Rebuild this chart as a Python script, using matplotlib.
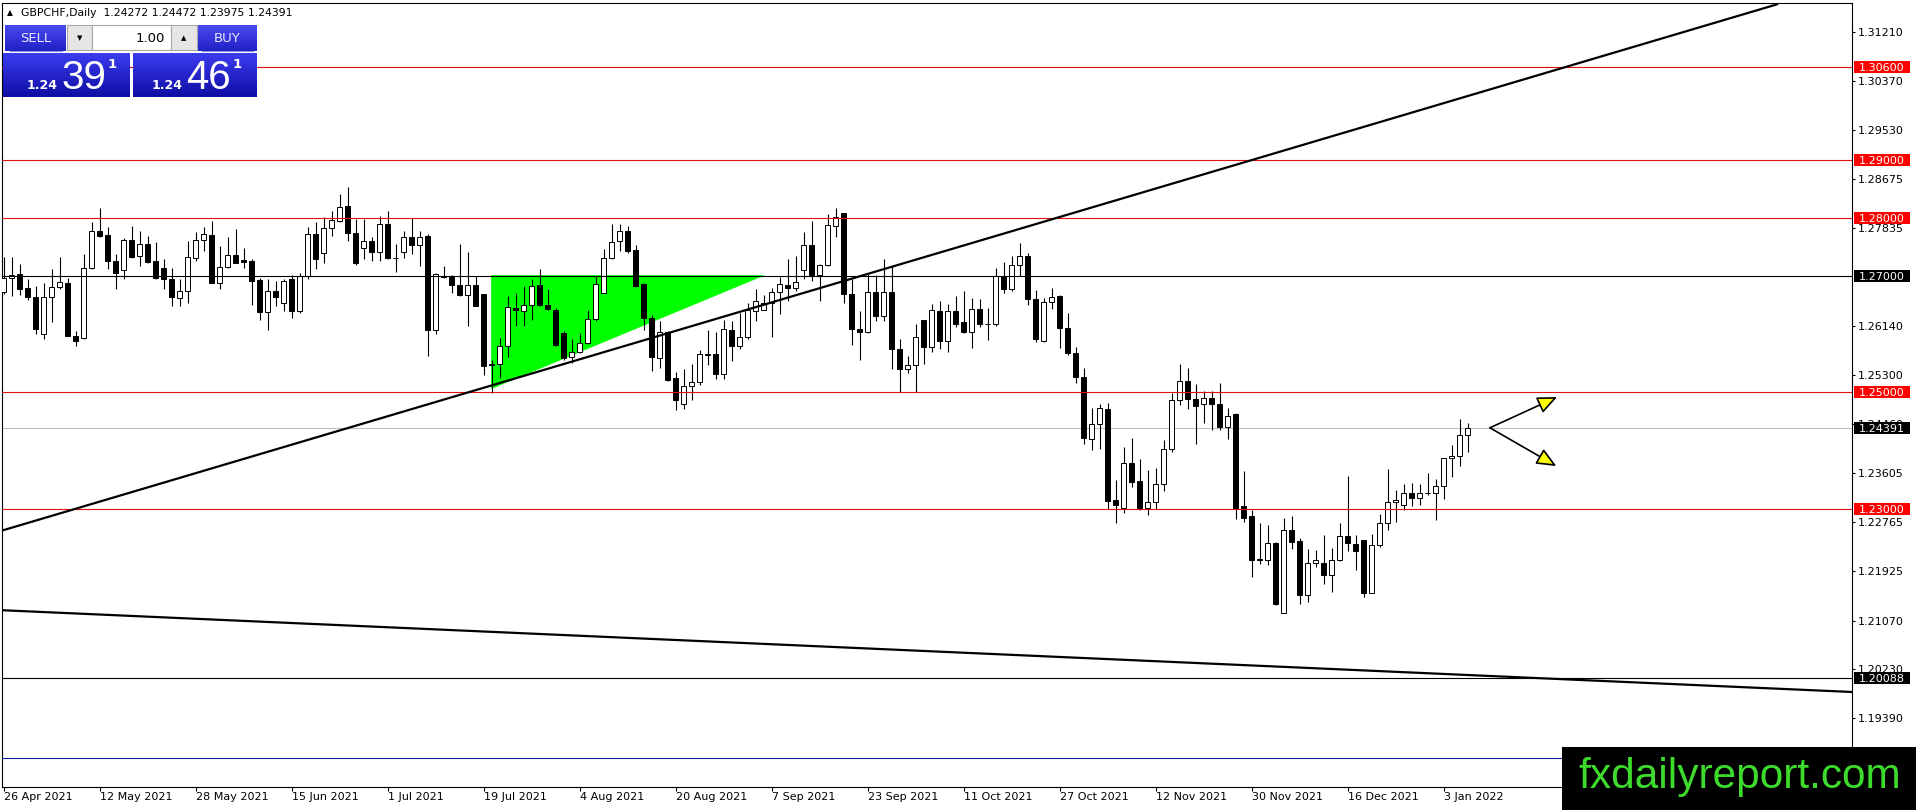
import matplotlib
matplotlib.use("Agg")
import matplotlib.pyplot as plt
import matplotlib.transforms as mtransforms
from matplotlib.patches import Rectangle, Polygon
from matplotlib.colors import LinearSegmentedColormap
import numpy as np

W, H, DPI = 1916, 810, 100

header = "GBPCHF,Daily  1.24272 1.24472 1.23975 1.24391"

# daily OHLC, 26 Apr 2021 .. 6 Jan 2022
opens = [
    1.26728, 1.26977, 1.27035, 1.26792, 1.26647, 1.26006, 1.26647, 1.26821, 1.26890, 1.25977,
    1.25936, 1.27150, 1.27775, 1.27711, 1.27272, 1.27110, 1.27630, 1.27353, 1.27555, 1.27272,
    1.27145, 1.26948, 1.26630, 1.26752, 1.27324, 1.27624, 1.27711, 1.26890, 1.27168, 1.27376,
    1.27277, 1.27266, 1.26931, 1.26382, 1.26752, 1.26543, 1.26948, 1.26399, 1.27006, 1.27728,
    1.27410, 1.27827, 1.27959, 1.28208, 1.27740, 1.27497, 1.27607, 1.27428, 1.27902, 1.27324,
    1.27428, 1.27682, 1.27538, 1.27688, 1.26081, 1.27006, 1.26994, 1.26844, 1.26682, 1.26844,
    1.26688, 1.25486, 1.25491, 1.25792, 1.26457, 1.26399, 1.26509, 1.26844, 1.26514, 1.26428,
    1.26023, 1.25619, 1.25705, 1.25850, 1.26266, 1.26717, 1.27324, 1.27601, 1.27786, 1.27457,
    1.26873, 1.26283, 1.25590, 1.26035, 1.25243, 1.24804, 1.25111, 1.25181, 1.25655, 1.25661,
    1.25325, 1.26078, 1.25806, 1.25951, 1.26397, 1.26426, 1.26541, 1.26733, 1.26854, 1.26796,
    1.27103, 1.27537, 1.27022, 1.27196, 1.27862, 1.28093, 1.26698, 1.26090, 1.26049, 1.26732,
    1.26309, 1.26732, 1.25742, 1.25412, 1.25466, 1.26247, 1.25787, 1.26402, 1.25891, 1.26402,
    1.26207, 1.26046, 1.26431, 1.26172, 1.26178, 1.27000, 1.26780, 1.27200, 1.27350, 1.26608,
    1.25879, 1.26557, 1.26666, 1.26103, 1.25672, 1.25259, 1.24196, 1.24448, 1.24707, 1.23144,
    1.23017, 1.23793, 1.23471, 1.23017, 1.23104, 1.23431, 1.24017, 1.24868, 1.25195, 1.24879,
    1.24793, 1.24897, 1.24793, 1.24408, 1.24627, 1.23040, 1.22868, 1.22138, 1.22121, 1.22414,
    1.21201, 1.22627, 1.22437, 1.21506, 1.22069, 1.22069, 1.21862, 1.22121, 1.22523, 1.22397,
    1.22454, 1.21546, 1.22368, 1.22742, 1.23104, 1.23058, 1.23259, 1.23173, 1.23270, 1.23270,
    1.23391, 1.23862, 1.23908, 1.24272,
]
highs = [
    1.27341, 1.27341, 1.27208, 1.26948, 1.26832, 1.26890, 1.27121, 1.27341, 1.26977, 1.26052,
    1.27381, 1.27942, 1.28173, 1.27844, 1.27381, 1.27653, 1.27873, 1.27786, 1.27688, 1.27584,
    1.27295, 1.27150, 1.26948, 1.27607, 1.27757, 1.27844, 1.27959, 1.27526, 1.27670, 1.27815,
    1.27497, 1.27295, 1.26971, 1.26948, 1.26919, 1.26948, 1.27029, 1.27064, 1.27844, 1.27931,
    1.28017, 1.28133, 1.28422, 1.28538, 1.27988, 1.27988, 1.27670, 1.28035, 1.28133, 1.27555,
    1.27786, 1.28000, 1.27786, 1.27728, 1.27064, 1.27179, 1.27017, 1.27555, 1.27422, 1.27006,
    1.26695, 1.25561, 1.25936, 1.26659, 1.26717, 1.26832, 1.26948, 1.27121, 1.26775, 1.26457,
    1.26052, 1.25919, 1.26023, 1.26416, 1.27006, 1.27468, 1.27902, 1.27902, 1.27873, 1.27538,
    1.26890, 1.26341, 1.26225, 1.26052, 1.25358, 1.25400, 1.25488, 1.25731, 1.26078, 1.26049,
    1.26252, 1.26223, 1.26368, 1.26541, 1.26790, 1.26686, 1.26802, 1.26993, 1.27294, 1.27352,
    1.27757, 1.27954, 1.27207, 1.28076, 1.28174, 1.28100, 1.26947, 1.26397, 1.27034, 1.27022,
    1.27294, 1.27178, 1.25916, 1.25630, 1.26178, 1.26252, 1.26523, 1.26575, 1.26523, 1.26654,
    1.26752, 1.26625, 1.26608, 1.26448, 1.27150, 1.27250, 1.27350, 1.27570, 1.27400, 1.26770,
    1.26625, 1.26800, 1.26683, 1.26362, 1.25787, 1.25414, 1.24724, 1.24799, 1.24810, 1.23489,
    1.24063, 1.24218, 1.23845, 1.23661, 1.23690, 1.24178, 1.24994, 1.25489, 1.25414, 1.25138,
    1.25029, 1.25029, 1.25167, 1.24724, 1.24638, 1.23644, 1.22971, 1.22753, 1.22713, 1.22420,
    1.22845, 1.22868, 1.22500, 1.22310, 1.22282, 1.22540, 1.22328, 1.22742, 1.23558, 1.22552,
    1.22460, 1.22569, 1.22914, 1.23678, 1.23316, 1.23420, 1.23448, 1.23431, 1.23604, 1.23506,
    1.23868, 1.24092, 1.24540, 1.24472,
]
lows = [
    1.26688, 1.26659, 1.26676, 1.26601, 1.26012, 1.25919, 1.26208, 1.26775, 1.25965, 1.25792,
    1.25919, 1.27121, 1.27670, 1.27121, 1.26786, 1.26948, 1.27324, 1.27179, 1.27225, 1.26948,
    1.26775, 1.26486, 1.26486, 1.26543, 1.27260, 1.27439, 1.26885, 1.26775, 1.27145, 1.27225,
    1.27150, 1.26514, 1.26254, 1.26081, 1.26486, 1.26399, 1.26283, 1.26370, 1.26948, 1.27121,
    1.27237, 1.27699, 1.27942, 1.27613, 1.27191, 1.27295, 1.27266, 1.27266, 1.27295, 1.27075,
    1.27324, 1.27381, 1.27179, 1.25636, 1.26012, 1.26977, 1.26717, 1.26659, 1.26150, 1.26486,
    1.25301, 1.24983, 1.25243, 1.25619, 1.26139, 1.26139, 1.26254, 1.26486, 1.26416, 1.25792,
    1.25561, 1.25515, 1.25676, 1.25832, 1.26225, 1.26710, 1.27295, 1.27439, 1.27410, 1.26821,
    1.26081, 1.25376, 1.25416, 1.25205, 1.24694, 1.24718, 1.24874, 1.25123, 1.25470, 1.25239,
    1.25239, 1.25546, 1.25748, 1.25916, 1.26223, 1.26414, 1.25951, 1.26356, 1.26570, 1.26744,
    1.26958, 1.26918, 1.26570, 1.27178, 1.27670, 1.26541, 1.25818, 1.25557, 1.26020, 1.26223,
    1.26223, 1.25412, 1.25010, 1.25330, 1.25012, 1.25483, 1.25701, 1.25741, 1.25701, 1.26121,
    1.26017, 1.25759, 1.26132, 1.25902, 1.26150, 1.26720, 1.26740, 1.27000, 1.26506, 1.25874,
    1.25870, 1.26436, 1.25762, 1.25644, 1.25167, 1.24109, 1.24006, 1.24017, 1.23000, 1.22753,
    1.22925, 1.23374, 1.22971, 1.22885, 1.23000, 1.23305, 1.23977, 1.24782, 1.24707, 1.24104,
    1.24477, 1.24351, 1.24351, 1.24190, 1.22828, 1.22770, 1.21822, 1.22040, 1.22023, 1.21333,
    1.21195, 1.22310, 1.21351, 1.21391, 1.21994, 1.21707, 1.21563, 1.22098, 1.22270, 1.21948,
    1.21477, 1.21540, 1.22339, 1.22627, 1.22770, 1.22971, 1.23046, 1.23058, 1.23230, 1.22799,
    1.23161, 1.23535, 1.23736, 1.23975,
]
closes = [
    1.26965, 1.27029, 1.26786, 1.26647, 1.26093, 1.26647, 1.26821, 1.26902, 1.25977, 1.25879,
    1.27150, 1.27775, 1.27699, 1.27272, 1.27064, 1.27630, 1.27341, 1.27555, 1.27249, 1.26977,
    1.26948, 1.26647, 1.26752, 1.27341, 1.27630, 1.27728, 1.26890, 1.27168, 1.27376, 1.27237,
    1.27254, 1.26919, 1.26382, 1.26752, 1.26647, 1.26913, 1.26410, 1.27006, 1.27723, 1.27295,
    1.27827, 1.27977, 1.28191, 1.27740, 1.27237, 1.27607, 1.27422, 1.27896, 1.27312, 1.27312,
    1.27670, 1.27538, 1.27682, 1.26081, 1.27046, 1.26983, 1.26844, 1.26676, 1.26844, 1.26497,
    1.25457, 1.25468, 1.25792, 1.26474, 1.26428, 1.26509, 1.26832, 1.26509, 1.26439, 1.25821,
    1.25590, 1.25705, 1.25850, 1.26266, 1.26873, 1.27324, 1.27584, 1.27786, 1.27439, 1.26832,
    1.26283, 1.25607, 1.26035, 1.25214, 1.24867, 1.25111, 1.25181, 1.25661, 1.25650, 1.25325,
    1.26090, 1.25806, 1.25951, 1.26414, 1.26570, 1.26541, 1.26727, 1.26871, 1.26802, 1.26906,
    1.27537, 1.27022, 1.27196, 1.27885, 1.28018, 1.26698, 1.26090, 1.26049, 1.26732, 1.26321,
    1.26732, 1.25742, 1.25412, 1.25470, 1.25960, 1.25787, 1.26420, 1.25891, 1.26402, 1.26178,
    1.26046, 1.26431, 1.26172, 1.26178, 1.27000, 1.26780, 1.27200, 1.27350, 1.26608, 1.25920,
    1.26557, 1.26643, 1.26106, 1.25684, 1.25259, 1.24207, 1.24448, 1.24724, 1.23132, 1.23063,
    1.23793, 1.23460, 1.23017, 1.23104, 1.23431, 1.24017, 1.24868, 1.25195, 1.24879, 1.24770,
    1.24897, 1.24793, 1.24408, 1.24598, 1.23000, 1.22845, 1.22121, 1.22121, 1.22414, 1.21362,
    1.22627, 1.22425, 1.21506, 1.22069, 1.22109, 1.21862, 1.22121, 1.22523, 1.22408, 1.22270,
    1.21546, 1.22368, 1.22742, 1.23104, 1.23155, 1.23259, 1.23173, 1.23270, 1.23276, 1.23385,
    1.23862, 1.23908, 1.24264, 1.24391,
]

date_ticks = [0, 12, 24, 36, 48, 60, 72, 84, 96, 108, 120, 132, 144, 156, 168, 180]
date_labels = ["26 Apr 2021", "12 May 2021", "28 May 2021", "15 Jun 2021", "1 Jul 2021",
               "19 Jul 2021", "4 Aug 2021", "20 Aug 2021", "7 Sep 2021", "23 Sep 2021",
               "11 Oct 2021", "27 Oct 2021", "12 Nov 2021", "30 Nov 2021", "16 Dec 2021",
               "3 Jan 2022"]

# visible scale labels (the ones fully under the level boxes / watermark are left out)
price_ticks = [1.31210, 1.30370, 1.29530, 1.28675, 1.27835, 1.26140, 1.25300,
               1.24460, 1.23605, 1.22765, 1.21925, 1.21070, 1.20230, 1.19390]

red_levels = [1.30600, 1.29000, 1.28000, 1.25000, 1.23000]
black_levels = [1.27000, 1.20088]
blue_level = 1.18700
bid = 1.24391

# drawn objects, (bar index, price)
trend_up_x, trend_up_y = [-0.19, 221.81], [1.22620, 1.31692]
trend_dn_x, trend_dn_y = [-0.19, 231.06], [1.21248, 1.19839]
tri_x, tri_y = [60.94, 60.94, 94.94], [1.25071, 1.27020, 1.27020]
arrow_from = (185.8, 1.24391)
arrow_tips = [(194.2, 1.24921), (194.1, 1.23732)]

RED = "#e01010"
BOXRED = "#ff0000"

fig = plt.figure(figsize=(W / DPI, H / DPI), dpi=DPI, facecolor="white")
L, R, T, B = 2, 1852, 3, 787
ax = fig.add_axes([L / W, 1 - B / H, (R - L) / W, (B - T) / H])
ax.set_facecolor("white")

# green triangle (background object)
ax.add_patch(Polygon(list(zip(tri_x, tri_y)), closed=True, fc="#00ff00", ec="#00ff00",
                     lw=0.5, zorder=1))

# candles
x = np.arange(len(opens))
o = np.array(opens)
c = np.array(closes)
ax.vlines(x, lows, highs, color="black", lw=0.8, zorder=3)
bottom = np.minimum(o, c)
height = np.maximum(np.abs(c - o), 0.00004)
ax.bar(x, height, bottom=bottom, width=0.55,
       color=np.where(c >= o, "white", "black"), edgecolor="black", lw=0.7, zorder=4)

# horizontal levels
for lv in red_levels:
    ax.axhline(lv, color=RED, lw=0.8, zorder=5)
for lv in black_levels:
    ax.axhline(lv, color="black", lw=0.8, zorder=5)
ax.axhline(blue_level, color="#1a1aa8", lw=0.8, zorder=5)
ax.axhline(bid, color="#c0c0c0", lw=0.8, zorder=2)

# trend lines
ax.plot(trend_up_x, trend_up_y, color="black", lw=1.6, zorder=5, solid_capstyle="butt")
ax.plot(trend_dn_x, trend_dn_y, color="black", lw=1.6, zorder=5, solid_capstyle="butt")

# arrows
for tip in arrow_tips:
    ax.annotate("", xy=tip, xytext=arrow_from, zorder=6,
                arrowprops=dict(arrowstyle="-|>,head_length=0.8,head_width=0.35",
                                fc="#ffff00", ec="black", lw=1.2, mutation_scale=15,
                                shrinkA=0, shrinkB=0))

# axes styling
for s in ax.spines.values():
    s.set_color("black")
    s.set_linewidth(0.8)
ax.yaxis.tick_right()
ax.set_yticks(price_ticks)
ax.set_yticklabels([f"{p:.5f}" for p in price_ticks])
ax.set_xticks(date_ticks, date_labels, ha="left")
ax.tick_params(axis="y", direction="out", length=2.2, width=0.8, pad=2.2, labelsize=8,
               colors="black")
ax.tick_params(axis="x", direction="out", length=2.8, width=0.8, pad=0.5, labelsize=8,
               colors="black")

# price label boxes on the right scale
tr = mtransforms.blended_transform_factory(fig.transFigure, ax.transData)
box_h = 12 / 5804
for lv, col in [(v, BOXRED) for v in red_levels] + [(v, "black") for v in black_levels] + [(bid, "black")]:
    ax.add_patch(Rectangle((1854 / W, lv - box_h / 2), 56 / W, box_h, transform=tr,
                           fc=col, ec="none", clip_on=False, zorder=8))
    ax.text(1858.5 / W, lv, f"{lv:.5f}", transform=tr, color="white", fontsize=8,
            va="center_baseline", ha="left", clip_on=False, zorder=9)

ax.set_xlim(-0.1875, -0.1875 + (R - L) / 8)
ax.set_ylim(1.18202, 1.31710)

# overlay in pixel coordinates: header, trade panel, watermark
ov = fig.add_axes([0, 0, 1, 1], zorder=10)
ov.axis("off")


def grad(x0, y0, x1, y1, ctop, cbot):
    cmap = LinearSegmentedColormap.from_list("g", [ctop, cbot])
    ov.imshow(np.linspace(0, 1, 64).reshape(-1, 1), extent=(x0, x1, y1, y0), cmap=cmap,
              aspect="auto", interpolation="bilinear", zorder=1)


ov.text(7, 13, "\u25b2", fontsize=5.5, va="center", ha="left")
ov.text(21, 13, header, fontsize=7.8, va="center", ha="left")

grad(5, 25, 66, 51, "#4a4af2", "#2020c4")
grad(198, 25, 257, 51, "#4a4af2", "#2020c4")
ov.plot([10, 62], [51, 51], color="#8c8cee", lw=0.8)
ov.plot([202, 253], [51, 51], color="#8c8cee", lw=0.8)
ov.add_patch(Rectangle((67, 25), 25, 25, fc="#e6e6e6", ec="#a8a8a8", lw=0.8, zorder=2))
ov.add_patch(Rectangle((92, 25), 79, 25, fc="white", ec="#a8a8a8", lw=0.8, zorder=2))
ov.add_patch(Rectangle((171, 25), 26, 25, fc="#e6e6e6", ec="#a8a8a8", lw=0.8, zorder=2))
ov.text(79.5, 38, "\u25bc", fontsize=5, ha="center", va="center", zorder=3)
ov.text(184, 38, "\u25b2", fontsize=5, ha="center", va="center", zorder=3)
ov.text(165, 38, "1.00", fontsize=9.5, ha="right", va="center", zorder=3)
ov.text(35.5, 38, "SELL", fontsize=9.5, color="#e8e8ff", ha="center", va="center", zorder=3)
ov.text(227.5, 38, "BUY", fontsize=9.5, color="#e8e8ff", ha="center", va="center", zorder=3)

grad(3, 53, 130, 97, "#3c3cf0", "#0e0ea4")
grad(133, 53, 257, 97, "#3c3cf0", "#0e0ea4")
for px, big in [(27, "39"), (152, "46")]:
    ov.text(px, 89, "1.24", fontsize=9, fontweight="bold", color="white", ha="left",
            va="baseline", zorder=3)
    ov.text(px + 34, 89, big, fontsize=29, family="Liberation Sans", color="white",
            ha="left", va="baseline", zorder=3)
    ov.text(px + 81, 58, "1", fontsize=9.5, fontweight="bold", color="white", ha="left",
            va="top", zorder=3)

ov.add_patch(Rectangle((1562, 747), W - 1562, H - 747, fc="black", ec="none", zorder=2))
ov.text(1578, 788, "fxdailyreport.com", fontsize=30.5, family="Liberation Sans",
        color="#3ddc2c", ha="left", va="baseline", zorder=3)

ov.set_xlim(0, W)
ov.set_ylim(H, 0)

fig.savefig("out.png", dpi=DPI, facecolor="white")
